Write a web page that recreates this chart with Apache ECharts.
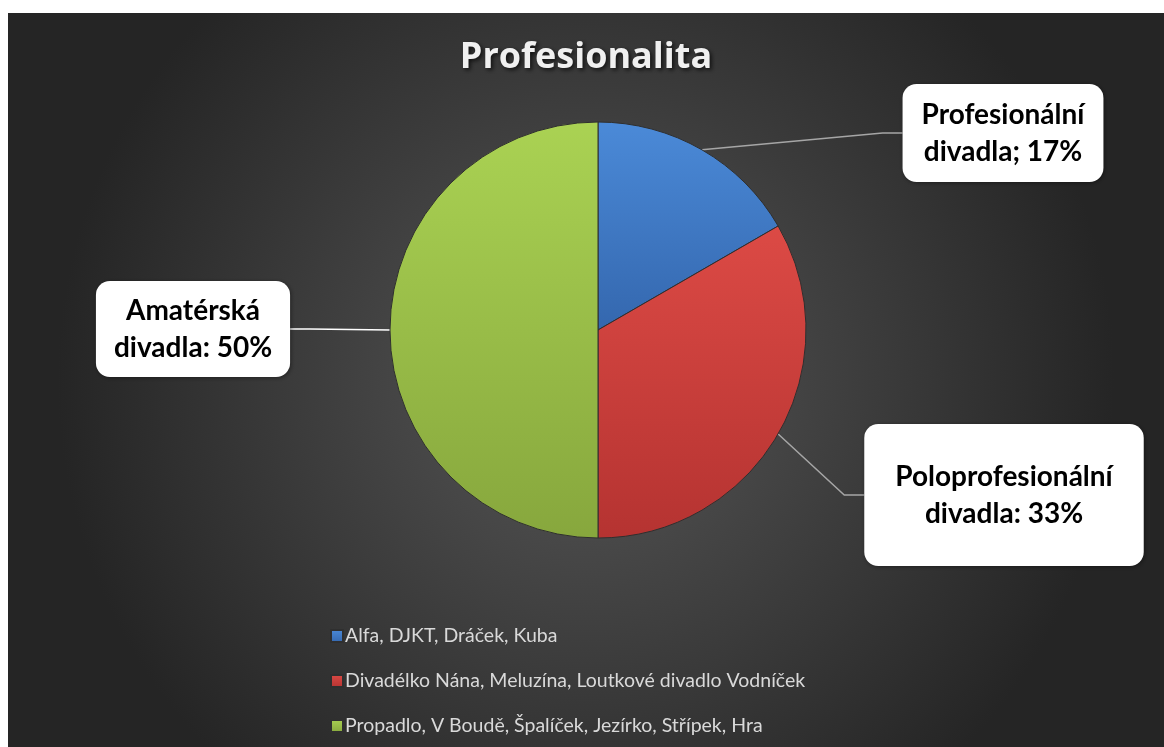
<!DOCTYPE html>
<html>
<head>
<meta charset="utf-8">
<script src="https://cdn.jsdelivr.net/npm/echarts@6/dist/echarts.min.js"></script>
<style>
html,body{margin:0;padding:0;background:#ffffff;}
#chart{position:absolute;left:8px;top:13px;width:1156px;height:734px;}
</style>
</head>
<body>
<div id="chart"></div>
<script>
// ---- data ----
const titleText = "Profesionalita";
const categories = [
  "Alfa, DJKT, Dráček, Kuba",
  "Divadélko Nána, Meluzína, Loutkové divadlo Vodníček",
  "Propadlo, V Boudě, Špalíček, Jezírko, Střípek, Hra"
];
const values = [1, 2, 3];
const labelTexts = [
  "Profesionální\ndivadla; 17%",
  "Poloprofesionální\ndivadla: 33%",
  "Amatérská\ndivadla: 50%"
];

// ---- styles ----
const sliceColors = [
  ["#4b8ad8", "#3467ae"],
  ["#dc4a45", "#b53331"],
  ["#aad253", "#87a73d"]
];
const labelBoxes = [
  {x: 995, y: 120, padding: [12, 19, 12, 19]},
  {x: 996, y: 482, padding: [34, 31, 34, 31]},
  {x: 185, y: 316, padding: [11, 18, 11, 18]}
];
const lineColors = ["#a6a6a6", "#a6a6a6", "#ffffff"];

const chart = echarts.init(document.getElementById('chart'));

const data = categories.map((c, i) => ({
  name: c,
  value: values[i],
  itemStyle: {
    color: new echarts.graphic.LinearGradient(0, 0, 0, 1, [
      {offset: 0, color: sliceColors[i][0]},
      {offset: 1, color: sliceColors[i][1]}
    ])
  },
  label: {
    formatter: labelTexts[i],
    padding: labelBoxes[i].padding
  },
  labelLine: { lineStyle: { color: lineColors[i] } }
}));

chart.setOption({
  backgroundColor: {
    type: 'radial', x: 0.5, y: 0.5, r: 0.72,
    colorStops: [
      {offset: 0, color: '#575757'},
      {offset: 1, color: '#252525'}
    ]
  },
  title: {
    text: titleText,
    left: 'center',
    top: 22,
    textStyle: {
      fontFamily: 'Open Sans',
      fontWeight: 'bold',
      fontSize: 36,
      color: '#f0f0f0',
      textShadowColor: 'rgba(0,0,0,0.7)',
      textShadowBlur: 4,
      textShadowOffsetX: 2,
      textShadowOffsetY: 2
    }
  },
  legend: {
    orient: 'vertical',
    left: 317,
    top: 607,
    icon: 'rect',
    itemWidth: 12,
    itemHeight: 12,
    itemGap: 23,
    textStyle: {
      fontFamily: 'Lato',
      fontSize: 19.5,
      lineHeight: 22,
      color: '#d9d9d9',
      padding: [0, 0, 0, -3]
    },
    data: categories
  },
  series: [{
    type: 'pie',
    center: [590, 317],
    radius: 208,
    startAngle: 90,
    clockwise: true,
    animation: false,
    silent: true,
    itemStyle: {
      borderColor: '#2f2f2f',
      borderWidth: 1
    },
    label: {
      show: true,
      fontFamily: 'Lato',
      fontWeight: 'bold',
      fontSize: 28,
      lineHeight: 37,
      color: '#000000',
      backgroundColor: '#ffffff',
      borderRadius: 14,
      align: 'center',
      shadowColor: 'rgba(0,0,0,0.4)',
      shadowBlur: 4,
      shadowOffsetX: 1,
      shadowOffsetY: 1
    },
    labelLine: {
      show: true,
      length: 20,
      length2: 20,
      lineStyle: { width: 1.5 }
    },
    labelLayout: function (params) {
      const b = labelBoxes[params.dataIndex];
      return {
        x: b.x,
        y: b.y,
        align: 'center',
        verticalAlign: 'middle'
      };
    },
    data: data
  }]
});
</script>
</body>
</html>
